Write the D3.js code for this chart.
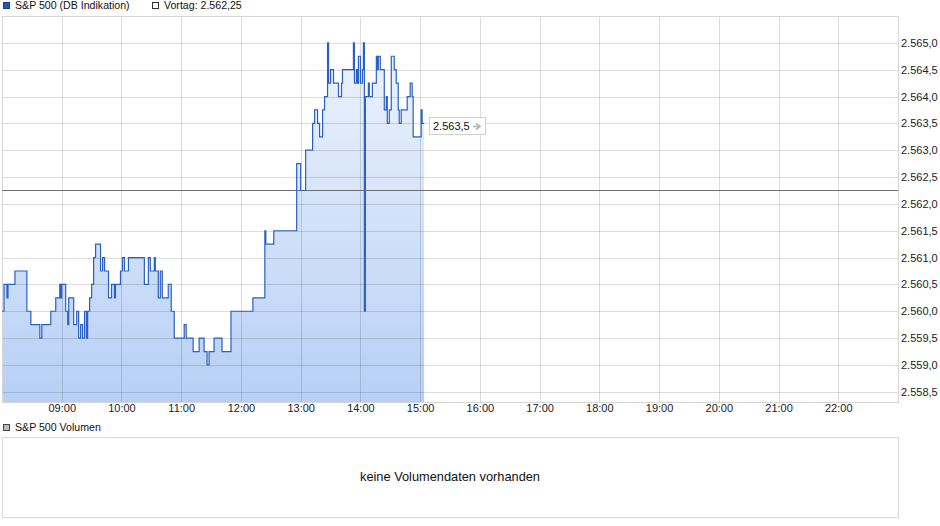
<!DOCTYPE html>
<html>
<head>
<meta charset="utf-8">
<script src="https://cdn.jsdelivr.net/npm/d3@7"></script>
<style>
  body { margin: 0; background: #fff; }
  svg { display: block; font-family: "Liberation Sans", Arial, sans-serif; }
</style>
</head>
<body>
<div id="chart"></div>
<script>
// intraday quotes (time of change, price)
const priceTimes = [
  "08:00","08:02","08:05","08:06","08:13","08:25","08:29","08:38","08:40","08:49",
  "08:54","08:58","08:59","09:00","09:04","09:06","09:07","09:12","09:15","09:17",
  "09:19","09:21","09:23","09:25","09:26","09:28","09:30","09:32","09:34","09:39",
  "09:41","09:43","09:47","09:50","09:53","09:54","09:59","10:01","10:03","10:07",
  "10:23","10:27","10:29","10:33","10:34","10:37","10:39","10:41","10:47","10:50",
  "10:53","11:03","11:05","11:12","11:18","11:23","11:26","11:28","11:33","11:41",
  "11:50","12:12","12:24","12:25","12:33","12:56","13:00","13:05","13:12","13:14",
  "13:17","13:19","13:22","13:24","13:27","13:28","13:30","13:33","13:38","13:41",
  "13:42","13:53","13:54","13:56","13:57","13:58","14:00","14:02","14:03","14:04",
  "14:05","14:08","14:09","14:12","14:16","14:17","14:18","14:20","14:24","14:26",
  "14:27","14:29","14:31","14:34","14:36","14:38","14:39","14:41","14:47","14:50",
  "14:52","14:53","15:01","15:02","15:04"
]
const priceValues = [
  2560.0,2560.5,2560.25,2560.5,2560.75,2560.0,2559.75,2559.5,2559.75,2560.0,
  2560.25,2560.5,2560.25,2560.5,2560.0,2559.75,2560.25,2559.75,2560.0,2559.5,
  2559.75,2559.5,2560.0,2559.5,2560.0,2560.25,2560.5,2561.0,2561.25,2560.75,
  2561.0,2560.75,2560.25,2560.5,2560.25,2560.5,2560.75,2561.0,2560.75,2561.0,
  2560.5,2561.0,2560.75,2561.0,2560.75,2560.25,2560.75,2560.25,2560.5,2560.0,
  2559.5,2559.75,2559.5,2559.25,2559.5,2559.25,2559.0,2559.25,2559.5,2559.25,
  2560.0,2560.25,2561.5,2561.25,2561.5,2562.75,2562.25,2563.0,2563.5,2563.75,
  2563.5,2563.25,2563.75,2564.0,2565.0,2564.25,2564.5,2564.25,2564.0,2564.25,
  2564.5,2565.0,2564.25,2564.5,2564.25,2564.75,2564.25,2564.5,2565.0,2560.0,
  2564.0,2564.25,2564.0,2564.25,2564.75,2564.5,2564.75,2564.5,2563.75,2564.0,
  2563.5,2563.75,2564.75,2564.5,2564.25,2563.75,2563.5,2563.75,2564.0,2564.25,
  2564.0,2563.25,2563.75,2563.5,2563.5
]
const previousClose = 2562.25
const yTicks = [2558.5,2559.0,2559.5,2560.0,2560.5,2561.0,2561.5,2562.0,2562.5,2563.0,2563.5,2564.0,2564.5,2565.0]
const xTicks = ["09:00","10:00","11:00","12:00","13:00","14:00","15:00","16:00","17:00","18:00","19:00","20:00","21:00","22:00"]
const seriesName = "S&P 500 (DB Indikation)"
const volumeName = "S&P 500 Volumen"
const noVolumeText = "keine Volumendaten vorhanden"

const width = 940, height = 526
const plot = {left: 2, right: 898, top: 16, bottom: 402}
const vol = {top: 437, bottom: 517}

const de = d3.formatLocale({decimal: ",", thousands: ".", grouping: [3], currency: ["", " €"]})
const fmt1 = de.format(",.1f")
const fmt2 = de.format(",.2f")
const parseTime = d3.timeParse("%H:%M")

const data = priceTimes.map((t, i) => ({t: parseTime(t), v: priceValues[i]}))

let svg = d3.select("#chart").append("svg")
.attr("width", width)
.attr("height", height)

let xScale = d3.scaleTime()
.domain([parseTime("08:00"), parseTime("23:00")])
.range([plot.left, plot.right])

let yScale = d3.scaleLinear()
.domain([2558.31, 2565.5])
.range([plot.bottom, plot.top])

const crisp = v => Math.round(v) + 0.5

let defs = svg.append("defs")
let grad = defs.append("linearGradient")
.attr("id", "fillGrad")
.attr("gradientUnits", "userSpaceOnUse")
.attr("x1", 0).attr("x2", 0)
.attr("y1", plot.top).attr("y2", plot.bottom)
grad.append("stop").attr("offset", "0%").attr("stop-color", "#f1f6fd")
grad.append("stop").attr("offset", "100%").attr("stop-color", "#b7cff5")

// area under the price line
const area = d3.area()
.curve(d3.curveStepAfter)
.x(d => xScale(d.t))
.y0(plot.bottom)
.y1(d => yScale(d.v))

svg.append("path")
.datum(data)
.attr("fill", "url(#fillGrad)")
.attr("d", area)

// grid
let grid = svg.append("g")
.attr("stroke", "#000")
.attr("stroke-opacity", 0.135)
.attr("shape-rendering", "crispEdges")

grid.selectAll(".hg")
.data(yTicks)
.enter()
.append("line")
.attr("x1", plot.left)
.attr("x2", plot.right)
.attr("y1", d => crisp(yScale(d)))
.attr("y2", d => crisp(yScale(d)))

grid.selectAll(".vg")
.data(xTicks)
.enter()
.append("line")
.attr("x1", d => crisp(xScale(parseTime(d))))
.attr("x2", d => crisp(xScale(parseTime(d))))
.attr("y1", plot.top)
.attr("y2", plot.bottom)

svg.append("rect")
.attr("x", plot.left + 0.5)
.attr("y", plot.top + 0.5)
.attr("width", plot.right - plot.left)
.attr("height", plot.bottom - plot.top)
.attr("fill", "none")
.attr("stroke", "#d6d6d6")

// previous close
svg.append("line")
.attr("x1", plot.left)
.attr("x2", plot.right)
.attr("y1", crisp(yScale(previousClose)))
.attr("y2", crisp(yScale(previousClose)))
.attr("stroke", "#6e6e6e")
.attr("shape-rendering", "crispEdges")

const line = d3.line()
.curve(d3.curveStepAfter)
.x(d => xScale(d.t))
.y(d => yScale(d.v))

svg.append("path")
.datum(data)
.attr("fill", "none")
.attr("stroke", "#2a60c6")
.attr("stroke-width", 1.2)
.attr("d", line)

// axes
let yaxis = svg.append("g")
.attr("transform", `translate(${plot.right},0)`)
.call(d3.axisRight(yScale).tickValues(yTicks).tickSize(0).tickPadding(3).tickFormat(fmt1))
yaxis.select(".domain").remove()
yaxis.selectAll("text")
.attr("font-family", "Liberation Sans, Arial, sans-serif")
.attr("font-size", 11)
.attr("fill", "#222")

let xaxis = svg.append("g")
.attr("transform", `translate(0,${plot.bottom})`)
.call(d3.axisBottom(xScale).tickValues(xTicks.map(parseTime)).tickSize(0).tickPadding(2).tickFormat(d3.timeFormat("%H:%M")))
xaxis.select(".domain").remove()
xaxis.selectAll("text")
.attr("font-family", "Liberation Sans, Arial, sans-serif")
.attr("font-size", 11)
.attr("fill", "#222")

// last price label
const last = data[data.length - 1]
let ly = yScale(last.v) + 2.5
let label = svg.append("g")
.attr("transform", `translate(${Math.round(xScale(last.t)) + 5},${Math.round(ly)})`)
label.append("rect")
.attr("x", 0.5).attr("y", -8.5)
.attr("width", 56).attr("height", 17)
.attr("fill", "#fff")
.attr("stroke", "#d0d0d0")
label.append("text")
.attr("x", 4)
.attr("y", 0)
.attr("dy", "0.35em")
.attr("font-size", 11)
.attr("fill", "#111")
.text(fmt1(last.v))
label.append("path")
.attr("d", "M44,0.5H50M47,-2.5L51,0.5L47,3.5")
.attr("fill", "none")
.attr("stroke", "#b5b5b5")
.attr("stroke-width", 1.6)

// legends
const legend = (x, y, fill, stroke, txt) => {
  svg.append("rect")
  .attr("x", x + 0.5).attr("y", y + 0.5)
  .attr("width", 6).attr("height", 6)
  .attr("fill", fill)
  .attr("stroke", stroke)
  svg.append("text")
  .attr("x", x + 12)
  .attr("y", y + 3.5)
  .attr("dy", "0.35em")
  .attr("font-size", 10.6)
  .attr("fill", "#111")
  .text(txt)
}
legend(3, 2, "#2456b8", "#1a3f86", seriesName)
legend(152, 2, "#fff", "#333", "Vortag: " + fmt2(previousClose))
legend(3, 424, "#bdbdbd", "#444", volumeName)

// empty volume panel
svg.append("rect")
.attr("x", plot.left + 0.5)
.attr("y", vol.top + 0.5)
.attr("width", plot.right - plot.left)
.attr("height", vol.bottom - vol.top)
.attr("fill", "none")
.attr("stroke", "#dadada")

svg.append("text")
.attr("x", (plot.left + plot.right) / 2)
.attr("y", (vol.top + vol.bottom) / 2)
.attr("dy", "0.35em")
.attr("text-anchor", "middle")
.attr("font-size", 12.8)
.attr("fill", "#111")
.text(noVolumeText)
</script>
</body>
</html>
